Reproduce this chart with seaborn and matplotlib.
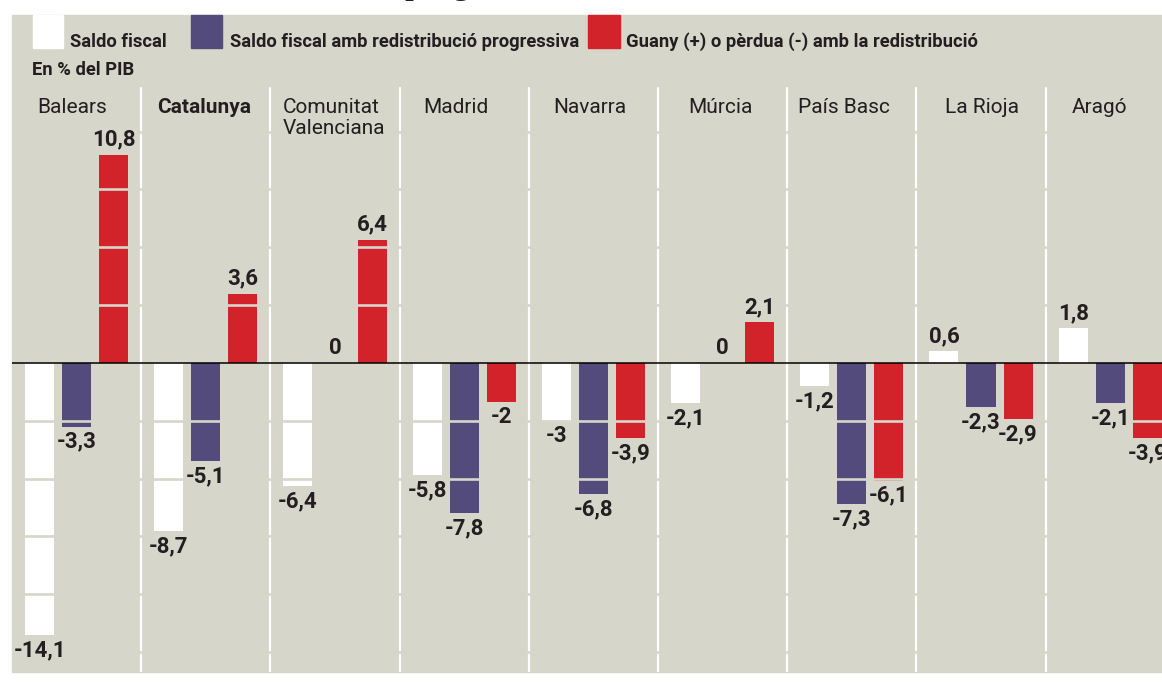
import pandas as pd
import matplotlib.pyplot as plt
import matplotlib.patches as mpatches
import seaborn as sns

# Data (en % del PIB)
regions = ["Balears", "Catalunya", "Comunitat\nValenciana", "Madrid", "Navarra",
           "Múrcia", "País Basc", "La Rioja", "Aragó"]
saldo_fiscal = [-14.1, -8.7, -6.4, -5.8, -3.0, -2.1, -1.2, 0.6, 1.8]
saldo_redistribucio = [-3.3, -5.1, 0.0, -7.8, -6.8, 0.0, -7.3, -2.3, -2.1]
guany_perdua = [10.8, 3.6, 6.4, -2.0, -3.9, 2.1, -6.1, -2.9, -3.9]
series_names = ["Saldo fiscal", "Saldo fiscal amb redistribució progressiva",
                "Guany (+) o pèrdua (-) amb la redistribució"]

BG = "#d6d6ca"
WHITE = "#ffffff"
PURPLE = "#534b7c"
RED = "#d2232b"
TXT = "#231f20"

sns.set_style("white")
plt.rcParams["font.family"] = ["Roboto", "DejaVu Sans"]

df = pd.DataFrame({
    "region": regions * 3,
    "serie": [series_names[0]] * 9 + [series_names[1]] * 9 + [series_names[2]] * 9,
    "valor": saldo_fiscal + saldo_redistribucio + guany_perdua,
})

W, H = 1162, 690
fig = plt.figure(figsize=(W / 100, H / 100), dpi=100)


def fx(px):
    return px / W


def fy(py):
    return 1 - py / H


# grey background panel (behind the axes)
fig.patches.append(mpatches.Rectangle((fx(12), fy(672)), 1150 / W, 657 / H,
                                      transform=fig.transFigure, color=BG, zorder=-5))

# clipped title at the very top
fig.text(fx(404), fy(-7), "progressiva", family=["Liberation Serif", "DejaVu Serif"],
         fontsize=26, va="baseline", ha="left", color=TXT)

ax = fig.add_axes([fx(12), fy(672), 1150 / W, 657 / H])
ax.set_facecolor("none")

sns.barplot(data=df, x="region", y="valor", hue="serie", order=regions,
            hue_order=series_names, palette=[WHITE, PURPLE, RED], saturation=1,
            width=0.86, gap=0.215, linewidth=0, legend=False, ax=ax, zorder=2)

ax.set_xlim(-0.5, -0.5 + 1150 / 129.2)
ax.set_ylim(-16.03, 18.05)
for s in ax.spines.values():
    s.set_visible(False)
ax.set_xticks([])
ax.set_yticks([])
ax.set_xlabel("")
ax.set_ylabel("")

# white separators between regions
sep_top = (672 - 88) / 657
for i in range(len(regions)):
    ax.axvline(i + 0.5, ymin=0, ymax=sep_top, color="white", lw=1.6, zorder=3)

# background-coloured grid cuts
for v in [-15, -12, -9, -6, -3, 3, 6, 9, 12, 15]:
    ax.axhline(v, color=BG, lw=1.9, zorder=4)

ax.axhline(0, color="black", lw=1.1, zorder=5)

# value labels
for cont in ax.containers:
    vals = [b.get_height() for b in cont]
    labels = [f"{v:g}".replace(".", ",") for v in vals]
    ax.bar_label(cont, labels=labels, padding=3, fontsize=16, fontweight="bold",
                 color=TXT, zorder=6)

# region names (left edge in pixels)
label_left = [37, 157, 283, 423, 553, 688, 798, 945, 1072]
for name, lx in zip(regions, label_left):
    fig.text(fx(lx), fy(98), name, ha="left", va="top", fontsize=15,
             color=TXT, linespacing=1.1,
             fontweight="bold" if name == "Catalunya" else "normal", zorder=6)

# legend
legend_items = [(33, 63, WHITE, 70, series_names[0]),
                (191, 222, PURPLE, 230, series_names[1]),
                (588, 620, RED, 626, series_names[2])]
for x0, x1, col, tx, label in legend_items:
    fig.patches.append(mpatches.Rectangle((fx(x0), fy(48)), (x1 - x0) / W, 33 / H,
                                          transform=fig.transFigure, color=col, zorder=1))
    fig.text(fx(tx), fy(47), label, fontsize=13.2, fontweight="bold", color=TXT,
             va="baseline", ha="left")
fig.text(fx(32), fy(75), "En % del PIB", fontsize=13.2, fontweight="bold", color=TXT,
         va="baseline", ha="left")

fig.savefig("out.png", dpi=100)
